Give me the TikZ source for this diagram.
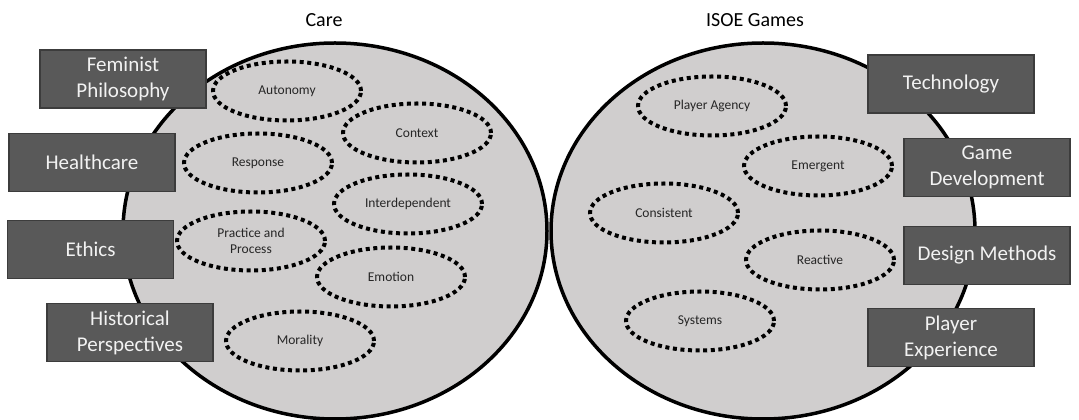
\documentclass[tikz,border=0pt]{standalone}
\usepackage{fontspec}
\setmainfont{Carlito}
\usetikzlibrary{shapes.geometric}

\definecolor{circlegray}{RGB}{208,206,206}
\definecolor{boxgray}{RGB}{89,89,89}
\definecolor{boxedge}{RGB}{60,60,60}
\definecolor{boxtext}{RGB}{242,242,242}
\definecolor{ovaltext}{RGB}{38,38,38}

\tikzset{
  field/.style={draw=boxedge, line width=1.2pt, fill=boxgray, text=boxtext,
    minimum width=166pt, minimum height=58pt, inner sep=0pt, align=center,
    font=\fontsize{21}{26}\selectfont},
  theme/.style={ellipse, draw=black, line width=4pt,
    dash pattern=on 4pt off 3.6pt, minimum width=148pt, minimum height=59pt,
    inner sep=0pt, align=center, text=ovaltext,
    font=\fontsize{13.5}{16}\selectfont},
  title/.style={font=\fontsize{20}{24}\selectfont},
}

\begin{document}
\begin{tikzpicture}[x=1pt, y=1pt]
\useasboundingbox (0, 0) rectangle (1079, 420);

% --- Big circles ---
\draw[line width=3.5pt, fill=circlegray] (335, 189) ellipse [x radius=212, y radius=188];
\draw[line width=3.5pt, fill=circlegray] (763, 189) ellipse [x radius=212, y radius=188];

\node[title] (care) at (324, 400) {Care};
\node[title] (isoe) at (755, 400) {ISOE Games};

% --- Care themes ---
\foreach \name/\x/\y/\txt in {autonomy/287/329/Autonomy, context/417/287/Context,
  response/258/257/Response, interdep/408/216/Interdependent,
  practice/251/179/{Practice and\\Process}, emotion/391/143/Emotion,
  morality/300/79/Morality} {
  \node[theme] (\name) at (\x, \y) {\txt};
}

% --- ISOE Games themes ---
\foreach \name/\x/\y/\txt in {agency/712/314/Player Agency, emergent/818/254/Emergent,
  consistent/664/207/Consistent, reactive/820/160/Reactive,
  systems/700/99/Systems} {
  \node[theme] (\name) at (\x, \y) {\txt};
}

% --- Fields (left) ---
\node[field] (feminist) at (123, 341) {Feminist\\Philosophy};
\node[field] (health) at (92, 257.5) {Healthcare};
\node[field] (ethics) at (90.5, 170.5) {Ethics};
\node[field] (history) at (130, 87.5) {Historical\\Perspectives};

% --- Fields (right) ---
\node[field] (tech) at (951, 336) {Technology};
\node[field] (gamedev) at (987, 252.5) {Game\\Development};
\node[field] (design) at (987, 164.5) {Design Methods};
\node[field] (experience) at (951, 82.5) {Player\\Experience};

\end{tikzpicture}
\end{document}
